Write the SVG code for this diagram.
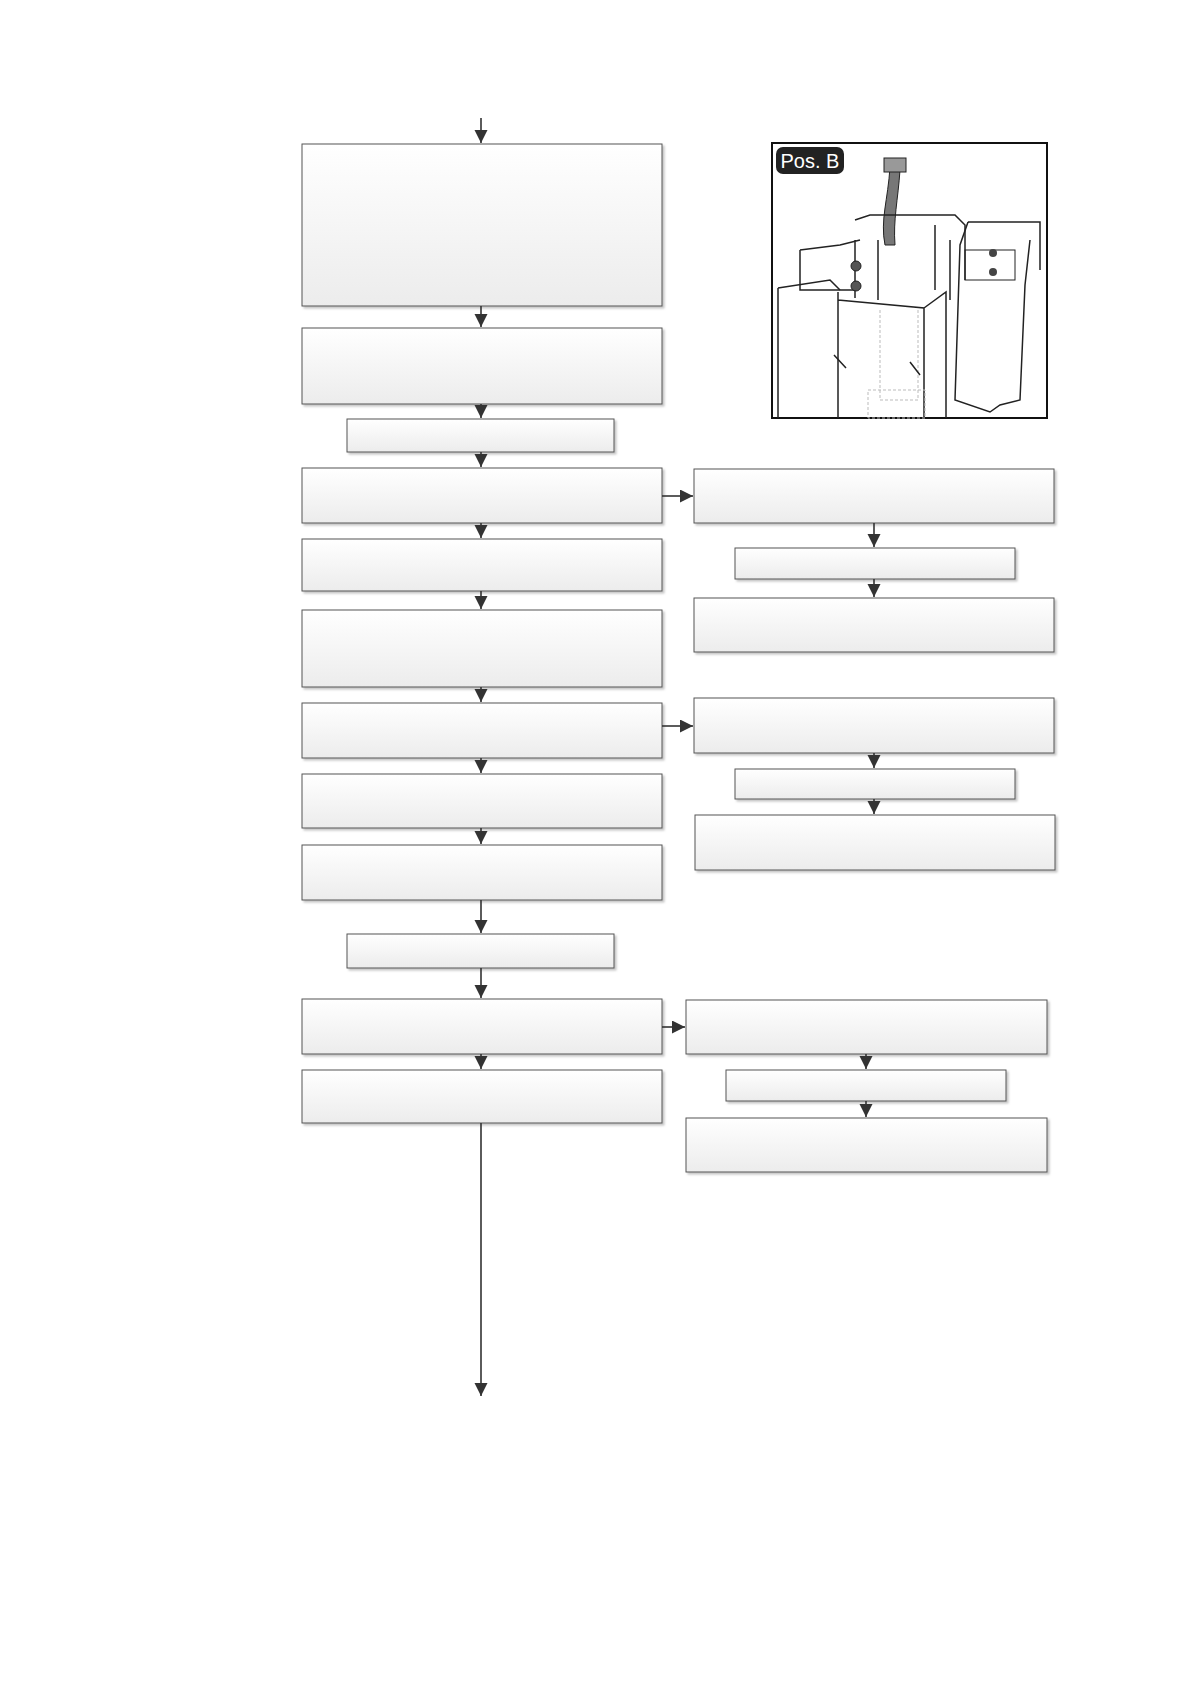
<svg xmlns="http://www.w3.org/2000/svg" width="1191" height="1684" viewBox="0 0 1191 1684">
<defs>
<linearGradient id="g" x1="0" y1="0" x2="0" y2="1"><stop offset="0" stop-color="#ffffff"/><stop offset="1" stop-color="#ececec"/></linearGradient>
<marker id="ah" markerWidth="14" markerHeight="14" refX="13" refY="6.5" orient="auto" markerUnits="userSpaceOnUse"><path d="M0,0 L13,6.5 L0,13 Z" fill="#333"/></marker>
<filter id="sh" x="-5%" y="-5%" width="110%" height="120%"><feDropShadow dx="2" dy="2" stdDeviation="1.2" flood-color="#999" flood-opacity="0.6"/></filter>
</defs>
<style>
.b{fill:url(#g);stroke:#555;stroke-width:1;filter:url(#sh)}
.c{stroke:#333;stroke-width:1.6;fill:none;marker-end:url(#ah)}
.d{fill:none;stroke:#222;stroke-width:1.5}
</style>
<rect width="1191" height="1684" fill="#fff"/>
<g id="nodes">
<g id="n1"><rect class="b" x="302" y="144" width="360" height="162"/></g>
<g id="n2"><rect class="b" x="302" y="328" width="360" height="76"/></g>
<g id="n3"><rect class="b" x="347" y="419" width="267" height="33"/></g>
<g id="n4"><rect class="b" x="302" y="468" width="360" height="55"/></g>
<g id="n5"><rect class="b" x="302" y="539" width="360" height="52"/></g>
<g id="n6"><rect class="b" x="302" y="610" width="360" height="77"/></g>
<g id="n7"><rect class="b" x="302" y="703" width="360" height="55"/></g>
<g id="n8"><rect class="b" x="302" y="774" width="360" height="54"/></g>
<g id="n9"><rect class="b" x="302" y="845" width="360" height="55"/></g>
<g id="n10"><rect class="b" x="347" y="934" width="267" height="34"/></g>
<g id="n11"><rect class="b" x="302" y="999" width="360" height="55"/></g>
<g id="n12"><rect class="b" x="302" y="1070" width="360" height="53"/></g>
<g id="r1"><rect class="b" x="694" y="469" width="360" height="54"/></g>
<g id="r2"><rect class="b" x="735" y="548" width="280" height="31"/></g>
<g id="r3"><rect class="b" x="694" y="598" width="360" height="54"/></g>
<g id="r4"><rect class="b" x="694" y="698" width="360" height="55"/></g>
<g id="r5"><rect class="b" x="735" y="769" width="280" height="30"/></g>
<g id="r6"><rect class="b" x="695" y="815" width="360" height="55"/></g>
<g id="r7"><rect class="b" x="686" y="1000" width="361" height="54"/></g>
<g id="r8"><rect class="b" x="726" y="1070" width="280" height="31"/></g>
<g id="r9"><rect class="b" x="686" y="1118" width="361" height="54"/></g>
<g id="pic">
<rect x="772" y="143" width="275" height="275" fill="#fff" stroke="#111" stroke-width="2"/>
<rect x="776" y="147" width="68" height="27" rx="7" fill="#222"/>
<text x="810" y="168" font-family="Liberation Sans, Arial, sans-serif" font-size="20" fill="#fff" text-anchor="middle">Pos. B</text>
<path d="M890,167 C888,200 880,220 885,245 L895,245 C893,220 898,200 900,170 Z" fill="#777" stroke="#222"/>
<rect x="884" y="158" width="22" height="14" fill="#999" stroke="#222"/>
<path class="d" d="M855,220 L870,215 L955,215 L965,225 L965,280 M800,250 L840,245 L860,240 M800,250 L800,290 L855,290 M855,240 L855,298 M878,240 L878,300 M935,225 L935,290 M950,240 L950,300"/>
<path class="d" d="M778,288 L778,418 M778,288 L830,280 L840,290 M838,292 L838,418 M838,300 L924,308 L924,418 M924,308 L946,292 L946,418"/>
<circle cx="856" cy="266" r="5" fill="#555" stroke="#222"/><circle cx="856" cy="286" r="5" fill="#555" stroke="#222"/>
<path class="d" d="M968,222 L1040,222 L1040,270 M968,222 L960,245 L955,400 L990,412 L1000,405 L1020,400 L1025,285 L1030,240"/>
<rect x="965" y="250" width="50" height="30" fill="none" stroke="#222"/>
<circle cx="993" cy="253" r="4" fill="#444"/><circle cx="993" cy="272" r="4" fill="#444"/>
<path d="M880,310 L880,400 L918,400 L918,310 M868,390 L925,390 L925,418 L868,418 Z" fill="none" stroke="#bbb" stroke-dasharray="3,2"/>
<path class="d" d="M834,355 L846,368 M910,362 L920,375"/>
</g>
</g>
<g id="connectors">
<line class="c" x1="481" y1="118" x2="481" y2="143"/>
<line class="c" x1="481" y1="306" x2="481" y2="327"/>
<line class="c" x1="481" y1="404" x2="481" y2="418"/>
<line class="c" x1="481" y1="452" x2="481" y2="467"/>
<line class="c" x1="481" y1="523" x2="481" y2="538"/>
<line class="c" x1="481" y1="591" x2="481" y2="609"/>
<line class="c" x1="481" y1="687" x2="481" y2="702"/>
<line class="c" x1="481" y1="758" x2="481" y2="773"/>
<line class="c" x1="481" y1="828" x2="481" y2="844"/>
<line class="c" x1="481" y1="900" x2="481" y2="933"/>
<line class="c" x1="481" y1="968" x2="481" y2="998"/>
<line class="c" x1="481" y1="1054" x2="481" y2="1069"/>
<line class="c" x1="481" y1="1123" x2="481" y2="1396"/>
<line class="c" x1="662" y1="496" x2="693" y2="496"/>
<line class="c" x1="874" y1="523" x2="874" y2="547"/>
<line class="c" x1="874" y1="579" x2="874" y2="597"/>
<line class="c" x1="662" y1="726" x2="693" y2="726"/>
<line class="c" x1="874" y1="753" x2="874" y2="768"/>
<line class="c" x1="874" y1="799" x2="874" y2="814"/>
<line class="c" x1="662" y1="1027" x2="685" y2="1027"/>
<line class="c" x1="866" y1="1054" x2="866" y2="1069"/>
<line class="c" x1="866" y1="1101" x2="866" y2="1117"/>
</g>
</svg>
